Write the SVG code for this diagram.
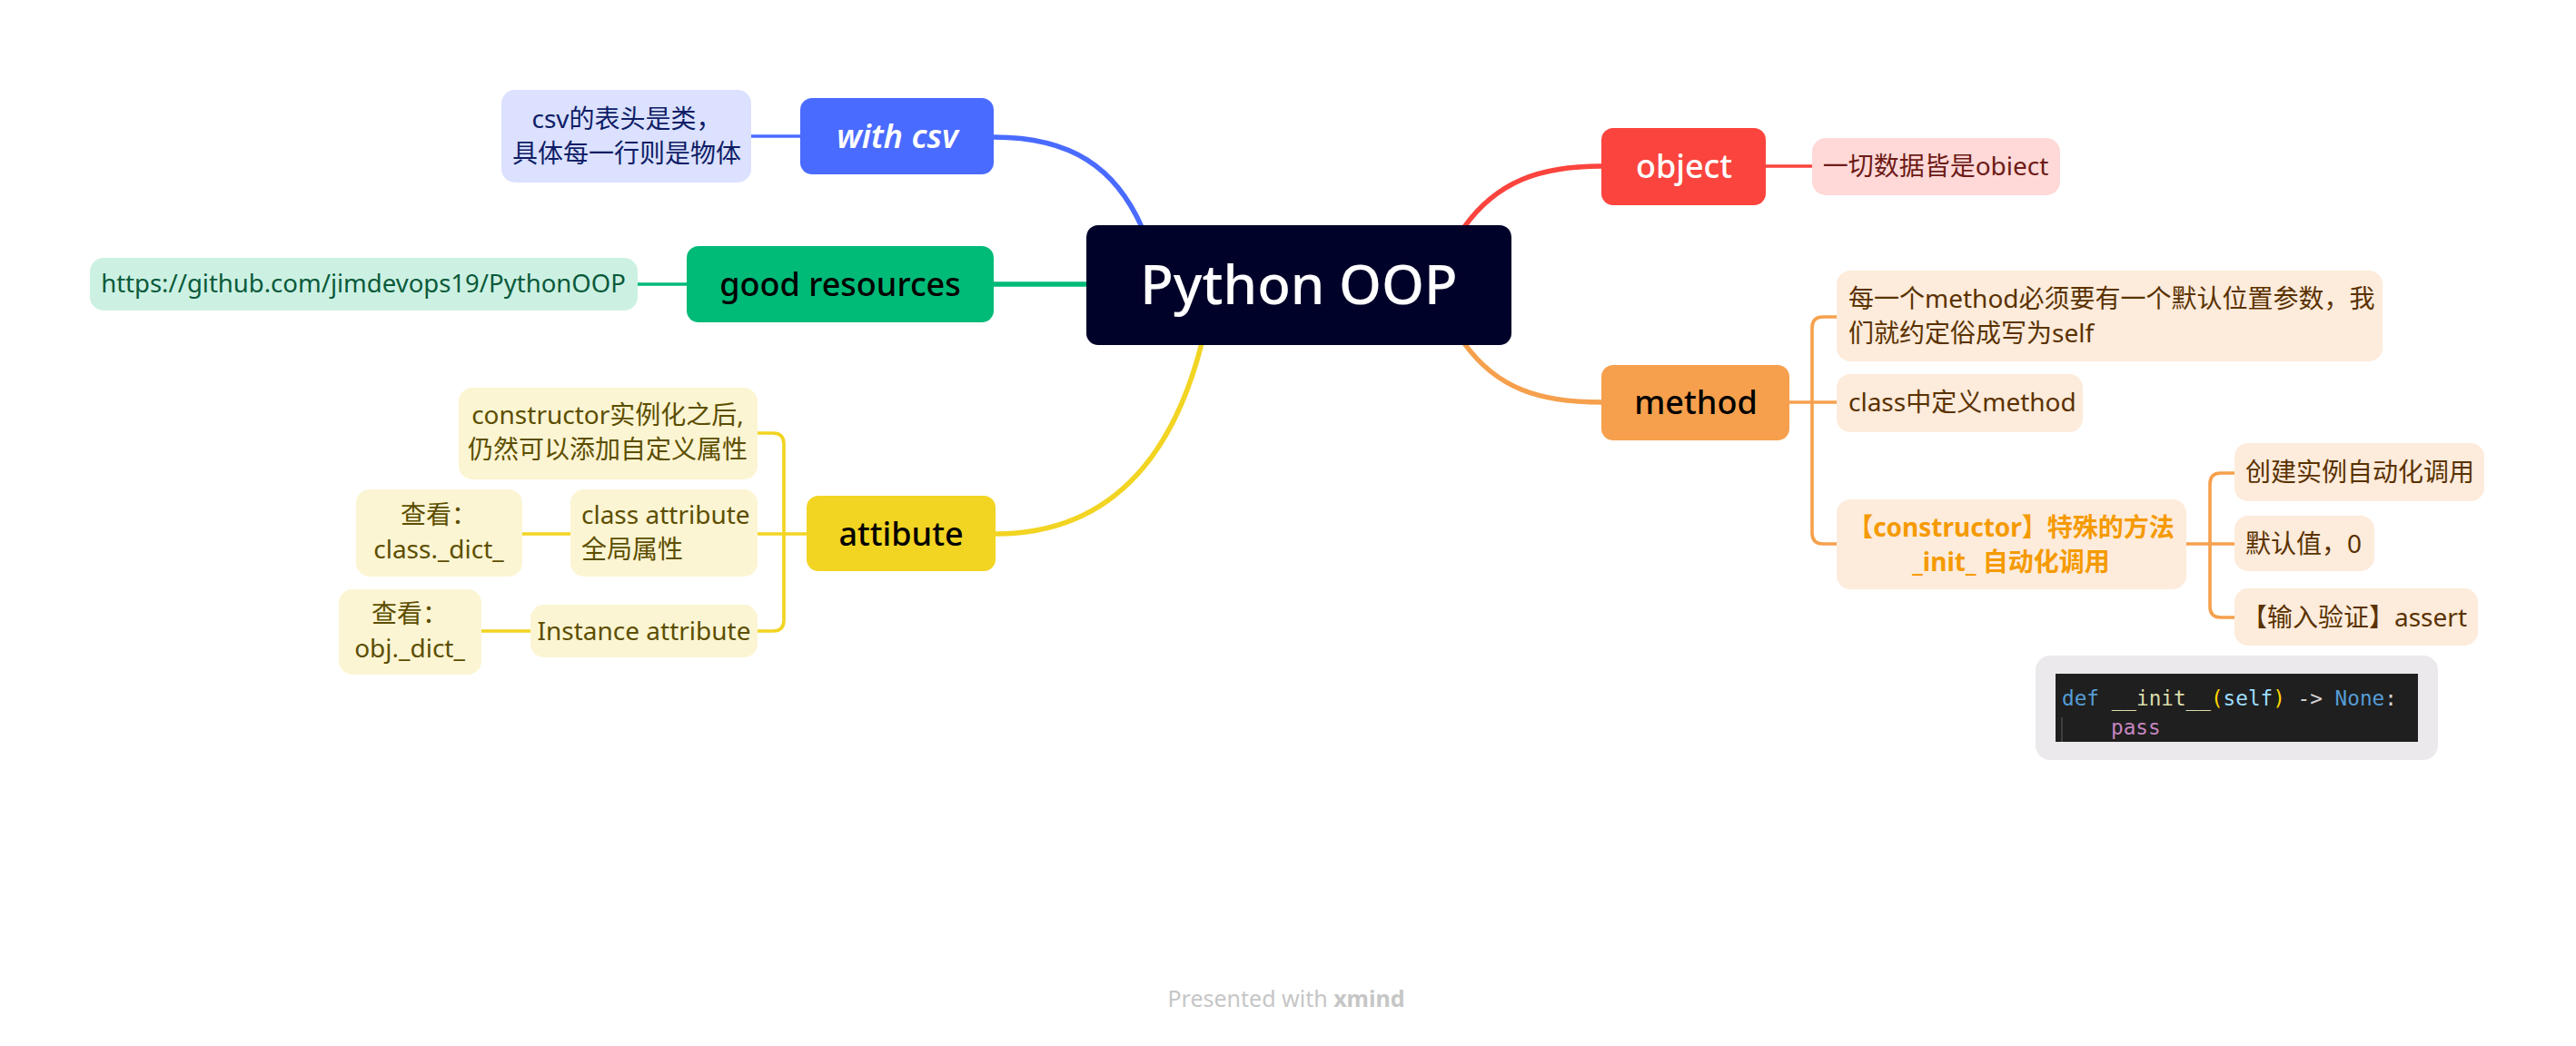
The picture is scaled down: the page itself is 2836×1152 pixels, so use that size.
<svg xmlns="http://www.w3.org/2000/svg" width="2836" height="1152" viewBox="0 0 2836 1152">
<style>
text{font-family:"Noto Sans","Noto Sans CJK SC",sans-serif}
.main{font-size:36px;text-anchor:middle;font-weight:500}
.child{font-size:28px}
.mid{text-anchor:middle}
.code{font-family:"DejaVu Sans Mono","Liberation Mono",monospace;font-size:22.7px}
.br{fill:none;stroke-width:5.5;stroke-linecap:round}
.sb{fill:none;stroke-width:3.6;stroke-linecap:round;stroke-linejoin:round}
</style>
<rect width="2836" height="1152" fill="#ffffff"/>
<g id="connectors">
  <path class="br" stroke="#4A6BFF" d="M1094,151 C1180,151 1228,185 1257,250"/>
  <path class="br" stroke="#00BA78" d="M1094,313 H1198"/>
  <path class="br" stroke="#F2D422" d="M1096,588 C1235,588 1296,485 1323,378"/>
  <path class="br" stroke="#FA443D" d="M1612,250 C1648,200 1695,183 1763,183"/>
  <path class="br" stroke="#F6A04D" d="M1612,378 C1648,428 1695,443 1763,443"/>
  <path class="sb" stroke="#4A6BFF" d="M827,150 H881"/>
  <path class="sb" stroke="#00BA78" d="M702,313 H756"/>
  <path class="sb" stroke="#F2D422" d="M888,588 H834 M834,477 H851 Q863,477 863,489 V683 Q863,695 851,695 H834 M628,588 H575 M584,695 H530"/>
  <path class="sb" stroke="#FA443D" d="M1944,183 H1995"/>
  <path class="sb" stroke="#F6A04D" d="M1970,443 H2022 M2022,349 H2007 Q1995,349 1995,361 V587 Q1995,599 2007,599 H2022 M2407,599 H2460 M2460,521 H2445 Q2433,521 2433,533 V668 Q2433,680 2445,680 H2460"/>
</g>
<g id="central">
  <rect x="1196" y="248" width="468" height="132" rx="13" fill="#000229"/>
  <text x="1430" y="335" font-size="60" font-weight="500" text-anchor="middle" fill="#ffffff">Python OOP</text>
</g>
<g id="with-csv">
  <rect x="881" y="108" width="213" height="84" rx="13" fill="#4A6BFF"/>
  <text class="main" x="988" y="163" fill="#ffffff" style="font-style:italic;font-weight:600">with csv</text>
</g>
<g id="csv-note">
  <rect x="552" y="99" width="275" height="102" rx="15" fill="#DBE1FE"/>
  <text class="child mid" x="690" y="141" fill="#0E1D66">csv的表头是类，</text>
  <text class="child mid" x="690" y="179" fill="#0E1D66">具体每一行则是物体</text>
</g>
<g id="good-resources">
  <rect x="756" y="271" width="338" height="84" rx="13" fill="#00BA78"/>
  <text class="main" x="925" y="326" fill="#000000">good resources</text>
</g>
<g id="url-note">
  <rect x="99" y="284" width="603" height="58" rx="15" fill="#CCF1E3"/>
  <text class="mid" x="400" y="322" font-size="27.5" fill="#0A5A3A">https://github.com/jimdevops19/PythonOOP</text>
</g>
<g id="attibute">
  <rect x="888" y="546" width="208" height="83" rx="13" fill="#F2D422"/>
  <text class="main" x="992" y="601" fill="#000000">attibute</text>
</g>
<g id="attr-constructor">
  <rect x="505" y="427" width="329" height="101" rx="15" fill="#FCF5D3"/>
  <text class="child mid" x="669" y="467" fill="#5C4E00">constructor实例化之后,</text>
  <text class="child mid" x="669" y="505" fill="#5C4E00">仍然可以添加自定义属性</text>
</g>
<g id="class-attribute">
  <rect x="628" y="539" width="206" height="96" rx="15" fill="#FCF5D3"/>
  <text class="child" x="640" y="577" fill="#5C4E00">class attribute</text>
  <text class="child" x="640" y="615" fill="#5C4E00">全局属性</text>
</g>
<g id="class-dict">
  <rect x="392" y="539" width="183" height="96" rx="15" fill="#FCF5D3"/>
  <text class="child mid" x="483" y="577" fill="#5C4E00">查看：</text>
  <text class="child mid" x="483" y="615" fill="#5C4E00">class._dict_</text>
</g>
<g id="instance-attribute">
  <rect x="584" y="666" width="250" height="58" rx="15" fill="#FCF5D3"/>
  <text class="child mid" x="709" y="705" fill="#5C4E00">Instance attribute</text>
</g>
<g id="obj-dict">
  <rect x="373" y="649" width="157" height="94" rx="15" fill="#FCF5D3"/>
  <text class="child mid" x="451" y="686" fill="#5C4E00">查看：</text>
  <text class="child mid" x="451" y="724" fill="#5C4E00">obj._dict_</text>
</g>
<g id="object">
  <rect x="1763" y="141" width="181" height="85" rx="13" fill="#FA443D"/>
  <text class="main" x="1854" y="196" fill="#ffffff">object</text>
</g>
<g id="object-note">
  <rect x="1995" y="152" width="273" height="63" rx="15" fill="#FED9D8"/>
  <text class="child mid" x="2131" y="193" fill="#6E1B17">一切数据皆是obiect</text>
</g>
<g id="method">
  <rect x="1763" y="402" width="207" height="83" rx="13" fill="#F6A04D"/>
  <text class="main" x="1867" y="456" fill="#000000">method</text>
</g>
<g id="method-self">
  <rect x="2022" y="298" width="601" height="100" rx="15" fill="#FDEBDB"/>
  <text class="child" x="2035" y="339" fill="#5A3200">每一个method必须要有一个默认位置参数，我</text>
  <text class="child" x="2035" y="377" fill="#5A3200">们就约定俗成写为self</text>
</g>
<g id="method-class">
  <rect x="2022" y="412" width="271" height="64" rx="15" fill="#FDEBDB"/>
  <text class="child" x="2035" y="453" fill="#5A3200">class中定义method</text>
</g>
<g id="constructor">
  <rect x="2022" y="550" width="385" height="99" rx="15" fill="#FDEBDB"/>
  <text class="child mid" x="2214" y="591" font-weight="bold" fill="#F59A00">【constructor】特殊的方法</text>
  <text class="child mid" x="2214" y="629" font-weight="bold" fill="#F59A00">_init_ 自动化调用</text>
</g>
<g id="create-instance">
  <rect x="2460" y="488" width="275" height="64" rx="15" fill="#FDEBDB"/>
  <text class="child" x="2472" y="530" fill="#5A3200">创建实例自动化调用</text>
</g>
<g id="default-value">
  <rect x="2460" y="568" width="154" height="61" rx="15" fill="#FDEBDB"/>
  <text class="child" x="2472" y="609" fill="#5A3200">默认值，0</text>
</g>
<g id="assert">
  <rect x="2460" y="648" width="268" height="63" rx="15" fill="#FDEBDB"/>
  <text class="child" x="2468" y="690" fill="#5A3200">【输入验证】assert</text>
</g>
<g id="code-image">
  <rect x="2241" y="722" width="443" height="115" rx="16" fill="#EBE9EC"/>
  <rect x="2263" y="742" width="399" height="75" fill="#1F1F1F"/>
  <line x1="2270" y1="790" x2="2270" y2="817" stroke="#4A4A4A" stroke-width="1.5"/>
  <text class="code" x="2270" y="777" xml:space="preserve"><tspan fill="#569CD6">def</tspan> <tspan fill="#DCDCAA">__init__</tspan><tspan fill="#FFD700">(</tspan><tspan fill="#9CDCFE">self</tspan><tspan fill="#FFD700">)</tspan><tspan fill="#D4D4D4"> -&gt; </tspan><tspan fill="#569CD6">None</tspan><tspan fill="#D4D4D4">:</tspan></text>
  <text class="code" x="2324" y="809" fill="#C586C0">pass</text>
</g>
<g id="footer">
  <text x="1416" y="1109" font-size="25" text-anchor="middle" fill="#C6C6C6">Presented with <tspan font-weight="bold">xmind</tspan></text>
</g>
</svg>
